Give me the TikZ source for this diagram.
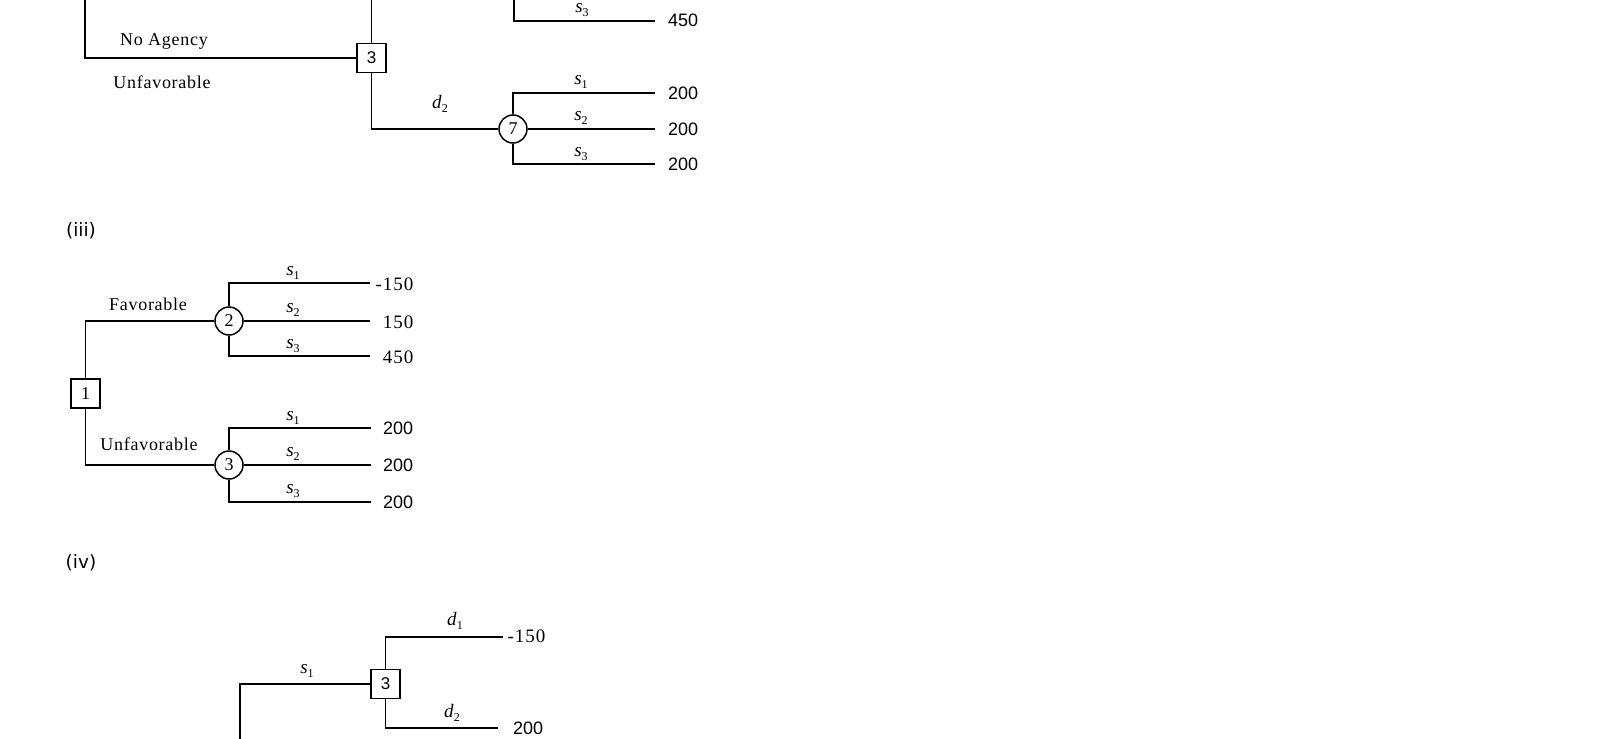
\documentclass[tikz,border=0pt]{standalone}
\usepackage{fontspec}
\setmainfont{Liberation Serif}
\newfontfamily\lsans{Liberation Sans}
\newfontfamily\vsans{DejaVu Sans}
\newfontfamily\wserif[LetterSpace=4]{Liberation Serif}
\newfontfamily\nserif[LetterSpace=5]{Liberation Serif}
\newcommand\brlab[2]{\textit{#1}\raisebox{-4bp}{\fontsize{12bp}{12bp}\selectfont #2}}
\begin{document}
\begin{tikzpicture}[x=1bp,y=-1bp,line width=1.5bp,
  dec/.style={draw,minimum width=29bp,minimum height=29bp,inner sep=0pt},
  chance/.style={draw,circle,minimum size=28bp,inner sep=0pt,font=\fontsize{18bp}{20bp}\selectfont},
  sdig/.style={font=\fontsize{17bp}{18bp}\selectfont\lsans},
  tdig/.style={font=\fontsize{18bp}{20bp}\selectfont},
  word/.style={inner sep=0pt,font=\fontsize{18bp}{20bp}\selectfont\wserif},
  brl/.style={inner sep=0pt,font=\fontsize{19bp}{20bp}\selectfont},
  sval/.style={anchor=east,inner sep=0pt,font=\fontsize{18bp}{20bp}\selectfont\lsans},
  tval/.style={anchor=east,inner sep=0pt,font=\fontsize{19bp}{20bp}\selectfont\nserif},
  part/.style={inner sep=0pt,font=\fontsize{18.5bp}{20bp}\selectfont\vsans}]
\useasboundingbox (0,0) rectangle (1597,739);

% ---------- top (partial) tree ----------
\coordinate (t0) at (85,0);
\coordinate (t1) at (371.5,0);
\node[dec,sdig] (tb3) at (371.5,58) {3};
\draw (t0) |- (tb3.west);
\draw (t1) -- (tb3.north);
\node[chance] (c7) at (513,129) {7};
\draw (tb3.south) |- (c7.west);
\coordinate (c7a) at (655,93);
\coordinate (c7b) at (655,129);
\coordinate (c7c) at (655,164);
\draw (c7.north) |- (c7a);
\draw (c7.east) -- (c7b);
\draw (c7.south) |- (c7c);
\coordinate (p0) at (514,0);
\coordinate (p1) at (655,21);
\draw (p0) |- (p1);
\node[brl] (ps3) at (582,10) {\brlab{s}{3}};
\node[sval] (pv) at (699,20) {450};
\node[word] (noag) at (164,42) {No Agency};
\node[word] (unf0) at (162,82) {Unfavorable};
\node[brl] (td2) at (440,104) {\brlab{d}{2}};
\node[brl] (ts1) at (581,82) {\brlab{s}{1}};
\node[brl] (ts2) at (581,118) {\brlab{s}{2}};
\node[brl] (ts3) at (581,154) {\brlab{s}{3}};
\node[sval] (tv1) at (699,93) {200};
\node[sval] (tv2) at (699,129) {200};
\node[sval] (tv3) at (699,164) {200};

% ---------- (iii) ----------
\node[part] (hiii) at (81,231) {(iii)};
\node[dec,tdig] (b1) at (85.5,393.5) {1};
\node[chance] (c2) at (229,321) {2};
\node[chance] (c3) at (229,465) {3};
\draw (b1.north) |- (c2.west);
\draw (b1.south) |- (c3.west);
\coordinate (c2a) at (370,283);
\coordinate (c2b) at (370,321);
\coordinate (c2c) at (370,356);
\coordinate (c3a) at (371,428);
\coordinate (c3b) at (371,465);
\coordinate (c3c) at (371,502);
\draw (c2.north) |- (c2a);
\draw (c2.east) -- (c2b);
\draw (c2.south) |- (c2c);
\draw (c3.north) |- (c3a);
\draw (c3.east) -- (c3b);
\draw (c3.south) |- (c3c);
\node[word] (fav) at (148,304) {Favorable};
\node[word] (unf1) at (149,444) {Unfavorable};
\node[brl] (a1) at (293,273) {\brlab{s}{1}};
\node[brl] (a2) at (293,310) {\brlab{s}{2}};
\node[brl] (a3) at (293,346) {\brlab{s}{3}};
\node[brl] (a4) at (293,418) {\brlab{s}{1}};
\node[brl] (a5) at (293,454) {\brlab{s}{2}};
\node[brl] (a6) at (293,491) {\brlab{s}{3}};
\node[tval] (v1) at (414,284) {-150};
\node[tval] (v2) at (414,322) {150};
\node[tval] (v3) at (414,357) {450};
\node[sval] (v4) at (414,428) {200};
\node[sval] (v5) at (414,465) {200};
\node[sval] (v6) at (414,502) {200};

% ---------- (iv) ----------
\node[part] (hiv) at (81,563) {(iv)};
\coordinate (iv0) at (240,739);
\node[dec,sdig] (ib3) at (385.5,684) {3};
\draw (iv0) |- (ib3.west);
\coordinate (e1) at (503,637);
\coordinate (e2) at (498,728);
\draw (ib3.north) |- (e1);
\draw (ib3.south) |- (e2);
\node[brl] (is1) at (307,671) {\brlab{s}{1}};
\node[brl] (id1) at (455,621) {\brlab{d}{1}};
\node[brl] (id2) at (452,713) {\brlab{d}{2}};
\node[tval] (iv1) at (546,636) {-150};
\node[sval] (iv2) at (544,728) {200};
\end{tikzpicture}
\end{document}
